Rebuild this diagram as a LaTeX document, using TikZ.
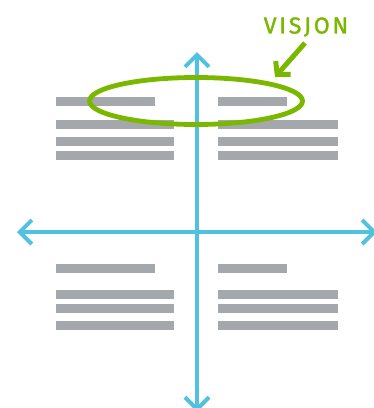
\documentclass[tikz,border=0pt]{standalone}
\usepackage{fontspec}
\setmainfont{Fira Sans}
\usetikzlibrary{arrows.meta,shapes.geometric}
\definecolor{aksblaa}{RGB}{80,194,224}
\definecolor{visgroenn}{RGB}{122,184,0}
\definecolor{linjegraa}{RGB}{164,167,171}
\tikzset{
  akse/.style={draw=aksblaa, line width=4pt,
    {Straight Barb[length=12pt,width=24pt,line cap=butt,line join=miter]}-{Straight Barb[length=12pt,width=24pt,line cap=butt,line join=miter]}},
  linje/.style={fill=linjegraa},
  pil/.style={draw=visgroenn, line width=5pt, -{Straight Barb[length=9pt,width=20pt,line cap=butt,line join=miter]}},
}
\begin{document}
\begin{tikzpicture}[x=1pt,y=-1pt]
\useasboundingbox (0,0) rectangle (374,408);
% akser
\coordinate (topp) at (197,52);
\coordinate (bunn) at (197,412);
\coordinate (venstre) at (17,232);
\coordinate (hoyre) at (377,232);
\draw[akse] (bunn) -- (topp);
\draw[akse] (venstre) -- (hoyre);
% tekstlinjer oppe
\fill[linje] (56,97) rectangle (155,106);
\fill[linje] (56,120) rectangle (174,129);
\fill[linje] (56,137) rectangle (174,146);
\fill[linje] (56,151) rectangle (174,160);
\fill[linje] (218,97) rectangle (287,106);
\fill[linje] (218,120) rectangle (338,129);
\fill[linje] (218,137) rectangle (338,146);
\fill[linje] (218,151) rectangle (338,160);
% tekstlinjer nede
\fill[linje] (56,264) rectangle (155,273);
\fill[linje] (56,290) rectangle (174,299);
\fill[linje] (56,304) rectangle (174,313);
\fill[linje] (56,321) rectangle (174,330);
\fill[linje] (218,264) rectangle (287,273);
\fill[linje] (218,290) rectangle (338,299);
\fill[linje] (218,304) rectangle (338,313);
\fill[linje] (218,321) rectangle (338,330);
% visjon
\node (ring) at (196,101) [ellipse, draw=visgroenn, line width=4.8pt,
  minimum width=213pt, minimum height=47pt] {};
\node (visjon) at (306,27) [text=visgroenn, font=\fontsize{23}{23}\selectfont\addfontfeatures{LetterSpace=12,FakeBold=1.5}] {VISJON};
\coordinate (pilstart) at (305,43);
\coordinate (piltupp) at (275,77);
\draw[pil] (pilstart) -- (piltupp);
\end{tikzpicture}
\end{document}
